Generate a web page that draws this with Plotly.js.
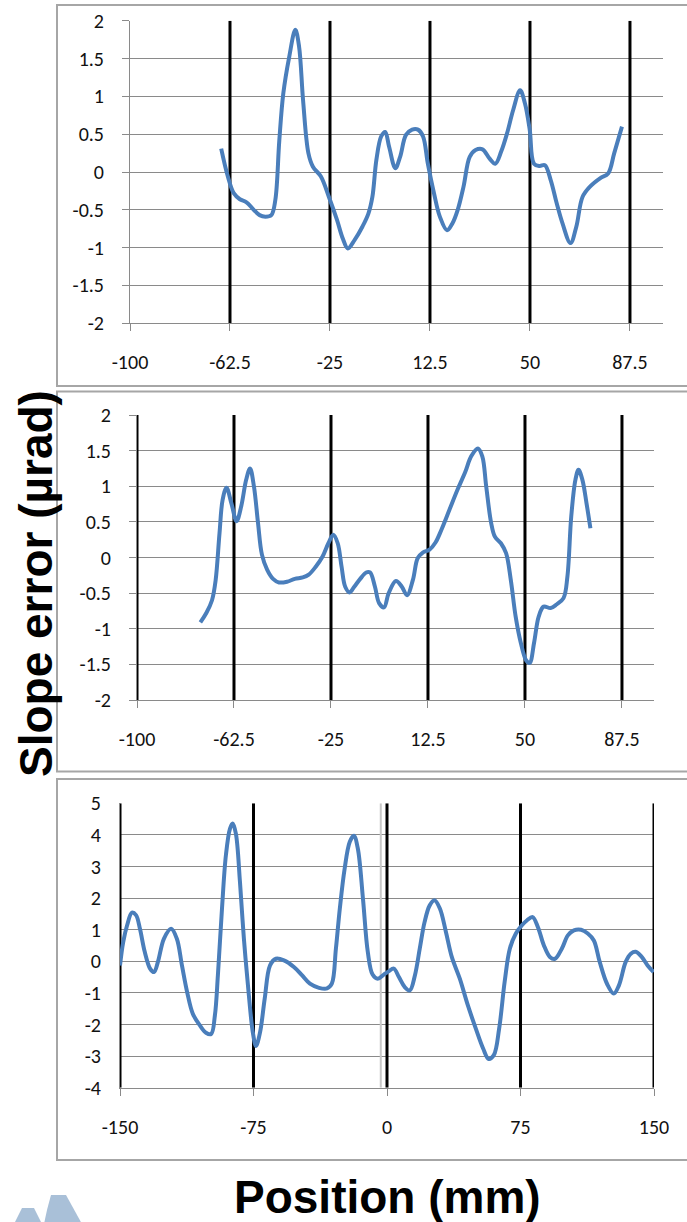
<!DOCTYPE html>
<html>
<head>
<meta charset="utf-8">
<script src="https://cdn.plot.ly/plotly-3.0.1.min.js"></script>
<style>
html,body{margin:0;padding:0;background:#fff;}
#chart{width:687px;height:1222px;}
</style>
</head>
<body>
<div id="chart"></div>
<script>
// ---------------- DATA ----------------
// Panel 1 (top)
const p1X = [-65.8,-63.3,-61.1,-58.8,-56.3,-53.6,-51.4,-49.2,-47.0,-45.5,-44.0,-42.5,-40.3,-38.0,-36.6,-35.1,-33.1,-31.4,-28.4,-25.4,-22.4,-20.2,-18.3,-15.8,-12.8,-10.6,-9.1,-7.6,-5.8,-4.3,-2.8,-0.5,1.3,3.5,5.8,8.0,9.9,11.7,14.0,16.2,18.9,20.9,22.9,25.1,27.4,29.6,32.2,34.8,37.0,39.2,41.4,43.7,46.3,48.1,49.9,51.5,53.6,55.6,57.8,60.0,62.2,65.2,67.4,69.7,72.6,76.4,79.3,81.6,84.5];
const p1Y = [0.31,-0.06,-0.28,-0.36,-0.40,-0.50,-0.57,-0.59,-0.57,-0.37,0.42,1.04,1.52,1.88,1.66,0.95,0.25,0.07,-0.06,-0.33,-0.63,-0.88,-1.01,-0.90,-0.72,-0.55,-0.33,0.16,0.47,0.53,0.33,0.05,0.20,0.49,0.56,0.56,0.47,0.11,-0.28,-0.59,-0.77,-0.68,-0.50,-0.19,0.20,0.29,0.30,0.18,0.11,0.27,0.51,0.82,1.08,0.91,0.56,0.11,0.08,0.09,-0.11,-0.41,-0.68,-0.94,-0.72,-0.33,-0.19,-0.08,-0.02,0.25,0.60];

// Panel 2 (middle)
const p2X = [-75.5,-73.2,-71.0,-69.6,-68.1,-66.9,-65.4,-63.5,-61.5,-59.7,-57.8,-56.3,-54.8,-53.2,-51.7,-49.7,-47.4,-45.1,-42.0,-39.0,-35.9,-33.6,-30.9,-28.3,-26.0,-24.1,-22.4,-20.9,-19.5,-17.8,-16.0,-13.7,-11.4,-9.9,-8.0,-6.4,-4.5,-2.7,0.1,2.4,4.4,6.7,8.5,10.5,13.1,15.4,17.7,20.8,23.9,26.9,29.2,31.8,33.5,35.0,36.9,38.4,40.7,42.7,44.5,46.4,48.4,50.4,51.8,53.5,55.3,57.2,59.9,62.2,64.9,66.4,67.9,69.5,70.7,72.2,73.8,75.3];
const p2Y = [-0.91,-0.78,-0.60,-0.32,0.34,0.81,0.98,0.76,0.51,0.72,1.09,1.25,1.00,0.48,0.04,-0.17,-0.30,-0.35,-0.34,-0.30,-0.28,-0.24,-0.13,0.01,0.20,0.32,0.20,-0.13,-0.41,-0.49,-0.41,-0.30,-0.21,-0.21,-0.41,-0.64,-0.70,-0.50,-0.33,-0.41,-0.53,-0.31,-0.01,0.07,0.11,0.21,0.39,0.67,0.95,1.20,1.42,1.53,1.42,1.00,0.49,0.29,0.20,0.06,-0.31,-0.83,-1.20,-1.44,-1.48,-1.20,-0.83,-0.69,-0.71,-0.66,-0.57,-0.27,0.58,1.09,1.23,1.09,0.76,0.41];

// Panel 3 (bottom)
const p3X = [-150,-148.2,-146.0,-143.3,-141.0,-138.8,-136.1,-133.1,-130.9,-128.7,-125.3,-121.3,-118.1,-115.2,-112.3,-109.1,-105.1,-101.7,-98.8,-96.7,-95.0,-92.7,-90.5,-88.2,-86.7,-84.9,-82.6,-80.4,-77.6,-75.4,-73.6,-71.3,-68.7,-65.7,-62.4,-57.9,-52.3,-47.8,-43.3,-38.2,-33.7,-31.0,-28.7,-26.5,-23.8,-20.9,-18.6,-16.4,-13.5,-10.8,-8.1,-5.2,-1.8,0.9,3.8,6.7,9.9,12.8,15.7,18.4,21.1,24.0,26.7,29.7,33.1,36.4,40.9,45.4,49.9,54.0,57.1,60.0,63.0,66.1,69.0,72.4,75.8,78.7,81.8,84.8,88.1,91.5,94.4,98.2,101.6,105.0,109.0,112.8,116.2,119.5,123.6,127.4,130.3,134.1,137.0,139.7,143.1,146.4,149.8];
const p3Y = [-0.13,0.61,1.14,1.54,1.46,1.03,0.30,-0.23,-0.34,-0.02,0.72,1.03,0.72,-0.13,-0.97,-1.66,-2.03,-2.26,-2.30,-1.72,-0.44,1.67,3.36,4.20,4.36,4.04,2.51,0.72,-1.08,-2.24,-2.68,-2.24,-1.18,-0.13,0.08,0.03,-0.18,-0.44,-0.71,-0.84,-0.86,-0.71,0.40,1.67,2.93,3.78,3.97,3.57,1.98,0.30,-0.42,-0.55,-0.42,-0.32,-0.23,-0.50,-0.81,-0.92,-0.44,0.40,1.24,1.77,1.93,1.67,0.93,0.14,-0.55,-1.39,-2.13,-2.76,-3.09,-2.97,-2.13,-0.65,0.40,0.88,1.14,1.30,1.40,1.08,0.51,0.14,0.08,0.40,0.82,0.98,1.00,0.88,0.66,-0.02,-0.71,-1.02,-0.76,-0.02,0.24,0.30,0.14,-0.13,-0.34];

// Axis ranges
const p12XRange = [-100,100];
const p12YRange = [-2,2];
const p3XRange = [-150,150];
const p3YRange = [-4,5];

// Tick values / labels
const p12TickVals = [-100,-62.5,-25,12.5,50,87.5];
const p12TickText = ["-100","-62.5","-25","12.5","50","87.5"];
const p12YTickVals = [-2,-1.5,-1,-0.5,0,0.5,1,1.5,2];
const p12YTickText = ["-2","-1.5","-1","-0.5","0","0.5","1","1.5","2"];
const p3TickVals = [-150,-75,0,75,150];
const p3TickText = ["-150","-75","0","75","150"];
const p3YTickVals = [-4,-3,-2,-1,0,1,2,3,4,5];
const p3YTickText = ["-4","-3","-2","-1","0","1","2","3","4","5"];

// Black vertical marker lines
const p1Markers = [-62.5,-25,12.5,50,87.5];
const p2Markers = [-100,-62.5,-25,12.5,50,87.5];
const p3Markers = [-150,-75,0,75,150];
const p3AxisCross = -3.5;

const yTitle = "Slope error (µrad)";
const xTitle = "Position (mm)";

// ---------------- LAYOUT ----------------
const W = 687, H = 1222;
const dxp = (a,b) => [a/W, b/W];
const dyp = (top,bottom) => [1-bottom/H, 1-top/H];
const px = v => v/W, py = v => 1 - v/H;

const blue = '#4a7ebb';
const gridC = '#8a8a8a';
const axC = '#8a8a8a';
const tickFont = {family:'Carlito, Lato, sans-serif', size:20, color:'#111'};

function curve(x,y,xa,ya){
  return {x:x, y:y, xaxis:xa, yaxis:ya, type:'scatter', mode:'lines',
    line:{color:blue, width:4, shape:'spline', smoothing:1}, hoverinfo:'skip'};
}
function vlines(list, yr, xa, ya, color, width){
  return list.map(v => ({x:[v,v], y:[yr[0],yr[1]], xaxis:xa, yaxis:ya, type:'scatter', mode:'lines',
    line:{color:color, width:width}, hoverinfo:'skip'}));
}

function xax(domain, range, vals, text, anchor){
  return {domain:domain, range:range, anchor:anchor, tickmode:'array', tickvals:vals, ticktext:text,
    showgrid:false, zeroline:false, showline:true, linecolor:axC, linewidth:1,
    ticks:'outside', ticklen:7, tickcolor:axC, tickwidth:1, tickfont:tickFont,
    ticklabelstandoff:14, fixedrange:true};
}
function yax(domain, range, vals, text, anchor, ticks){
  return {domain:domain, range:range, anchor:anchor, tickmode:'array', tickvals:vals, ticktext:text,
    showgrid:true, gridcolor:gridC, gridwidth:1, zeroline:false, showline:true, linecolor:axC, linewidth:1,
    ticks:ticks, ticklen:7, tickcolor:axC, tickwidth:1, tickfont:tickFont,
    ticklabelstandoff:14, fixedrange:true};
}

const shapes = [];
// panel frames
function frame(top,bottom){
  shapes.push({type:'rect', xref:'paper', yref:'paper', x0:px(57), x1:px(700), y0:py(bottom), y1:py(top),
    line:{color:'#a6a6a6', width:2}, fillcolor:'rgba(0,0,0,0)', layer:'below'});
}
frame(5,386);
frame(391.5,771.5);
frame(779,1160);

// logo (decorative)
function poly(pts){
  return 'M ' + pts.map(p => px(p[0]).toFixed(5)+','+py(p[1]).toFixed(5)).join(' L ') + ' Z';
}
shapes.push({type:'path', xref:'paper', yref:'paper', path:poly([[14,1224],[22,1208],[34,1208],[42,1224]]),
  fillcolor:'#a9c0d8', line:{width:0}, layer:'below'});
shapes.push({type:'path', xref:'paper', yref:'paper', path:poly([[44,1224],[47,1210],[51,1195],[66,1195],[82,1224]]),
  fillcolor:'#a9c0d8', line:{width:0}, layer:'below'});

const layout = {
  width:W, height:H, margin:{l:0,r:0,t:0,b:0}, paper_bgcolor:'#fff', plot_bgcolor:'rgba(0,0,0,0)',
  showlegend:false,
  xaxis: xax(dxp(130,663.3), p12XRange, p12TickVals, p12TickText, 'y'),
  yaxis: yax(dyp(20.7,323.3), p12YRange, p12YTickVals, p12YTickText, 'x', 'outside'),
  xaxis2: xax(dxp(137,654.3), p12XRange, p12TickVals, p12TickText, 'y2'),
  yaxis2: yax(dyp(415,700), p12YRange, p12YTickVals, p12YTickText, 'x2', 'outside'),
  xaxis3: xax(dxp(120,654), p3XRange, p3TickVals, p3TickText, 'y3'),
  yaxis3: yax(dyp(803.3,1087.7), p3YRange, p3YTickVals, p3YTickText, 'x3', ''),
  shapes: shapes,
  annotations: [
    {text:'<b>'+yTitle+'</b>', xref:'paper', yref:'paper', x:px(36), y:py(584), textangle:-90,
     showarrow:false, xanchor:'center', yanchor:'middle',
     font:{family:'Liberation Sans, Arial, sans-serif', size:46, color:'#000'}},
    {text:'<b>'+xTitle+'</b>', xref:'paper', yref:'paper', x:px(387), y:py(1197),
     showarrow:false, xanchor:'center', yanchor:'middle',
     font:{family:'Liberation Sans, Arial, sans-serif', size:46, color:'#000'}}
  ]
};

const data = [].concat(
  vlines(p1Markers, p12YRange, 'x', 'y', '#000', 3),
  vlines(p2Markers, p12YRange, 'x2', 'y2', '#000', 3),
  vlines([p3AxisCross], p3YRange, 'x3', 'y3', '#c8c8c8', 2),
  vlines(p3Markers, p3YRange, 'x3', 'y3', '#000', 3),
  [curve(p1X,p1Y,'x','y'), curve(p2X,p2Y,'x2','y2'), curve(p3X,p3Y,'x3','y3')]
);
Plotly.newPlot('chart', data, layout, {staticPlot:true, displayModeBar:false});
</script>
</body>
</html>
